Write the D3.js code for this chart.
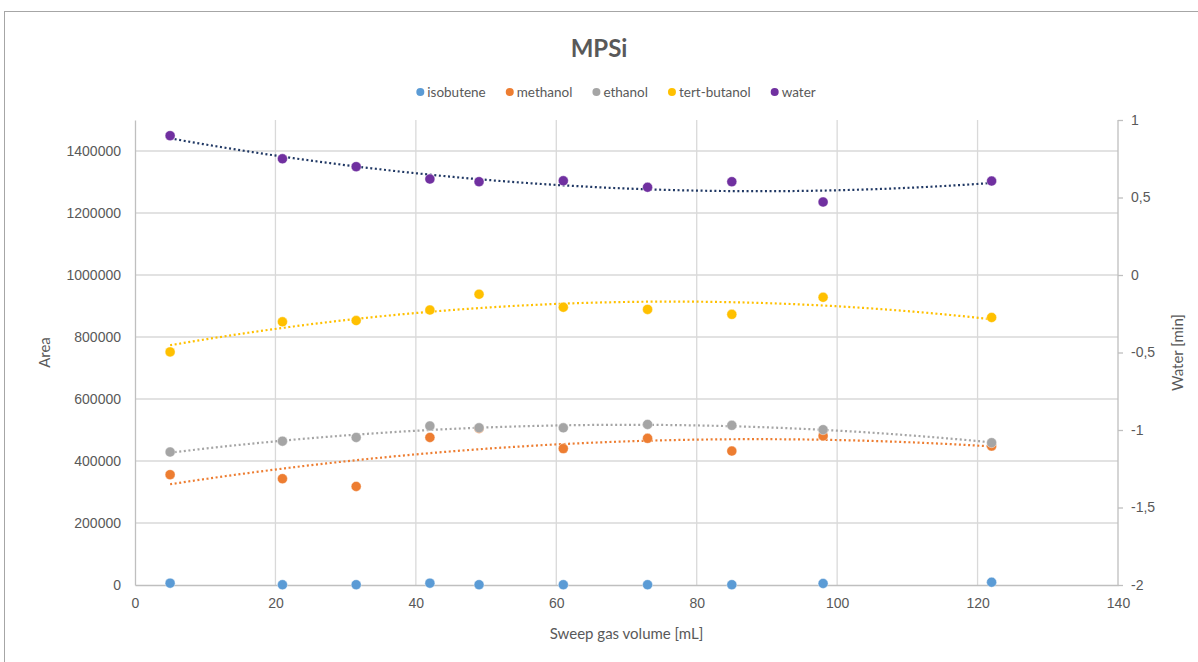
<!DOCTYPE html>
<html>
<head>
<meta charset="utf-8">
<script src="https://cdn.jsdelivr.net/npm/d3@7"></script>
<style>
  body { margin: 0; background: #fff; }
  svg { display: block; font-family: Lato, "Open Sans", sans-serif; }
  .tick-label { fill: #595959; font-size: 14px; }
  .axis-title { fill: #595959; font-size: 15px; }
  .legend-text { fill: #595959; font-size: 13.5px; }
</style>
</head>
<body>
<svg width="1198" height="662"></svg>
<script>
// sweep gas volume [mL]
const volume = [5, 21, 31.5, 42, 49, 61, 73, 85, 98, 122];
// peak areas
const isobutene = [6000, 1000, 1000, 6000, 1000, 1000, 1000, 1000, 5000, 9000];
const methanol = [356000, 343000, 318000, 476000, 505000, 440000, 473000, 432000, 481000, 448000];
const ethanol = [429000, 464000, 476000, 513000, 507000, 507000, 518000, 515000, 501000, 459000];
const tertButanol = [752000, 849000, 853000, 887000, 938000, 896000, 889000, 873000, 928000, 863000];
// water retention [min] (secondary axis)
const water = [0.899, 0.75, 0.699, 0.619, 0.602, 0.608, 0.566, 0.602, 0.471, 0.606];

const seriesNames = ["isobutene", "methanol", "ethanol", "tert-butanol", "water"];
const seriesColors = ["#5B9BD5", "#ED7D31", "#A5A5A5", "#FFC000", "#7030A0"];
const trendColors = [null, "#ED7D31", "#A5A5A5", "#FFC000", "#203864"];

const xTicks = [0, 20, 40, 60, 80, 100, 120, 140];
const yTicks = [0, 200000, 400000, 600000, 800000, 1000000, 1200000, 1400000];
const y2Ticks = [-2, -1.5, -1, -0.5, 0, 0.5, 1];

const svg = d3.select("svg");
const margin = { left: 135, right: 80, top: 120, bottom: 77 };
const W = 1198, H = 662;

svg.append("rect")
  .attr("x", 4.5).attr("y", 11.5)
  .attr("width", 1210).attr("height", 700)
  .attr("fill", "#fff")
  .attr("stroke", "#a6a6a6");

const x = d3.scaleLinear().domain([0, 140]).range([margin.left, W - margin.right]);
const y = d3.scaleLinear().domain([0, 1500000]).range([H - margin.bottom, margin.top]);
const y2 = d3.scaleLinear().domain([-2, 1]).range([H - margin.bottom, margin.top]);

const commaFmt = d3.formatLocale({ decimal: ",", thousands: "", grouping: [3], currency: ["", ""], minus: "-" }).format("");

// gridlines
svg.append("g").selectAll("line").data(yTicks.slice(1)).join("line")
  .attr("x1", x(0)).attr("x2", x(140))
  .attr("y1", d => y(d)).attr("y2", d => y(d))
  .attr("stroke", "#d9d9d9").attr("stroke-width", 1.3);

svg.append("g").selectAll("line").data(xTicks.slice(1, -1)).join("line")
  .attr("x1", d => x(d)).attr("x2", d => x(d))
  .attr("y1", y(0)).attr("y2", margin.top)
  .attr("stroke", "#d9d9d9").attr("stroke-width", 1.3);

// axes
const xAxis = svg.append("g").attr("transform", `translate(0,${y(0)})`)
  .call(d3.axisBottom(x).tickValues(xTicks).tickSize(0).tickPadding(13));
const yAxis = svg.append("g").attr("transform", `translate(${x(0)},0)`)
  .call(d3.axisLeft(y).tickValues(yTicks).tickFormat(d3.format("d")).tickSize(0).tickPadding(14));
const y2Axis = svg.append("g").attr("transform", `translate(${x(140)},0)`)
  .call(d3.axisRight(y2).tickValues(y2Ticks).tickFormat(d => commaFmt(d)).tickSize(5).tickPadding(8));

[xAxis, yAxis, y2Axis].forEach(a => {
  a.select(".domain").attr("stroke", "#bfbfbf").attr("stroke-width", 1.3);
  a.selectAll(".tick line").attr("stroke", "#bfbfbf").attr("stroke-width", 1.3);
  a.selectAll(".tick text").attr("class", "tick-label").attr("font-family", null).attr("font-size", null);
});
y2Axis.select(".domain").attr("d", `M0,${y2(-2)}V${y2(1)}`);

// trendlines (2nd order polynomial, least squares)
function polyfit(xv, yv) {
  const n = 3;
  const A = d3.range(n).map(i => d3.range(n).map(j => d3.sum(xv, v => Math.pow(v, i + j))));
  const b = d3.range(n).map(i => d3.sum(xv, (v, k) => Math.pow(v, i) * yv[k]));
  for (let c = 0; c < n; c++) {
    for (let r = c + 1; r < n; r++) {
      const f = A[r][c] / A[c][c];
      for (let k = c; k < n; k++) A[r][k] -= f * A[c][k];
      b[r] -= f * b[c];
    }
  }
  const coef = new Array(n).fill(0);
  for (let r = n - 1; r >= 0; r--) {
    let s = b[r];
    for (let k = r + 1; k < n; k++) s -= A[r][k] * coef[k];
    coef[r] = s / A[r][r];
  }
  return t => coef[0] + coef[1] * t + coef[2] * t * t;
}

const allSeries = [isobutene, methanol, ethanol, tertButanol, water];
const samples = d3.range(0, 201).map(i => d3.min(volume) + (d3.max(volume) - d3.min(volume)) * i / 200);

allSeries.forEach((vals, si) => {
  if (!trendColors[si]) return;
  const scale = si === 4 ? y2 : y;
  const f = polyfit(volume, vals);
  svg.append("path")
    .datum(samples)
    .attr("fill", "none")
    .attr("stroke", trendColors[si])
    .attr("stroke-width", 2.2)
    .attr("stroke-dasharray", "2 2.6")
    .attr("d", d3.line().x(d => x(d)).y(d => scale(f(d))));
});

// points
allSeries.forEach((vals, si) => {
  const scale = si === 4 ? y2 : y;
  svg.append("g").selectAll("circle").data(vals).join("circle")
    .attr("cx", (d, i) => x(volume[i]))
    .attr("cy", d => scale(d))
    .attr("r", 5)
    .attr("fill", seriesColors[si])
    .attr("stroke", "#fff")
    .attr("stroke-opacity", 0.5)
    .attr("stroke-width", 0.8);
});

// titles
svg.append("text")
  .attr("x", W / 2).attr("y", 57)
  .attr("text-anchor", "middle")
  .attr("fill", "#595959")
  .attr("font-size", 24).attr("font-weight", "bold")
  .text("MPSi");

svg.append("text").attr("class", "axis-title")
  .attr("x", (x(0) + x(140)) / 2).attr("y", 639)
  .attr("text-anchor", "middle")
  .text("Sweep gas volume [mL]");

svg.append("text").attr("class", "axis-title")
  .attr("transform", `translate(50,${(y(0) + margin.top) / 2}) rotate(-90)`)
  .attr("text-anchor", "middle")
  .text("Area");

svg.append("text").attr("class", "axis-title")
  .attr("transform", `translate(1183,${(y(0) + margin.top) / 2}) rotate(-90)`)
  .attr("text-anchor", "middle")
  .text("Water [min]");

// legend
const legend = svg.append("g");
let lx = 0;
seriesNames.forEach((name, i) => {
  const item = legend.append("g").attr("transform", `translate(${lx},0)`);
  item.append("circle").attr("cx", 4).attr("cy", 0).attr("r", 4).attr("fill", seriesColors[i]);
  const t = item.append("text").attr("class", "legend-text")
    .attr("x", 11).attr("y", 4.5).text(name);
  lx += 11 + t.node().getComputedTextLength() + 20;
});
legend.attr("transform", `translate(${W / 2 - (lx - 20) / 2 + 17},92)`);
</script>
</body>
</html>
